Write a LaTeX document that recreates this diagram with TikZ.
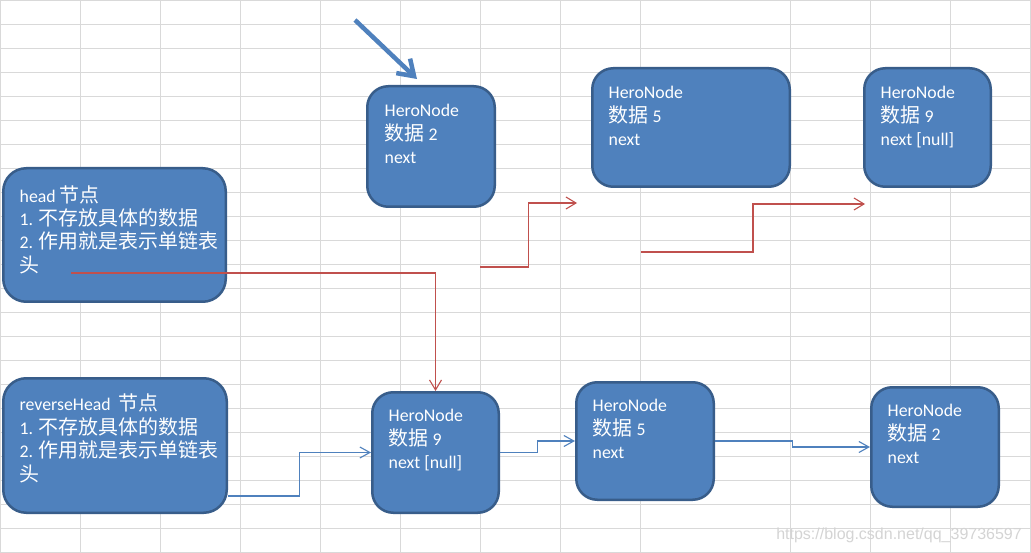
\documentclass[tikz,border=0pt]{standalone}
\usepackage{fontspec}
\setmainfont{Carlito}
\newfontfamily\cjk{Noto Sans CJK SC}[Scale=1.12]
\newfontfamily\wmfont{Liberation Sans}
\usetikzlibrary{arrows.meta,calc}
\definecolor{boxblue}{HTML}{4F81BD}
\definecolor{boxedge}{HTML}{385D8A}
\definecolor{gridgray}{HTML}{D9D9D9}
\definecolor{linkred}{HTML}{C0504D}
\definecolor{wmgray}{HTML}{D4D4D4}
\tikzset{
  hbox/.style={draw=boxedge, fill=boxblue, line width=2.5pt, rounded corners=21pt, inner sep=0pt},
  txt/.style={anchor=north west, inner sep=0pt, align=left, text=white, font=\fontsize{17.8}{23.4}\selectfont},
  redlink/.style={draw=linkred, line width=1.1pt, -{Straight Barb[length=10pt,width=12pt]}},
  bluelink/.style={draw=boxblue, line width=1.1pt, -{Straight Barb[length=10pt,width=11pt]}},
  bigarrow/.style={draw=boxblue, line width=4.5pt, -{Straight Barb[length=15pt,width=20pt]}},
  gridline/.style={draw=gridgray, line width=1pt}
}
\newcommand{\fs}{\rule{0pt}{20pt}}
\begin{document}
\begin{tikzpicture}[x=1pt,y=-1pt]
\useasboundingbox (0,0) rectangle (1031,553);
\fill[white] (0,0) rectangle (1031,553);
% grid
\foreach \x in {0.5,80.5,160.5,240.5,320.5,400.5,480.5,560.5,640.5,790.5,870.5,950.5,1030.5}
  \draw[gridline] (\x,0) -- (\x,553);
\foreach \y in {0.5,24.5,48.5,72.5,96.5,120.5,144.5,168.5,192.5,216.5,240.5,264.5,288.5,312.5,336.5,360.5,384.5,408.5,432.5,456.5,480.5,504.5,528.5,552.5}
  \draw[gridline] (0,\y) -- (1031,\y);

% boxes
\node[hbox, minimum width=127.5pt, minimum height=120.5pt] (h2top) at (431,146.5) {};
\node[hbox, rounded corners=23pt, minimum width=222.5pt, minimum height=133.5pt] (head) at (114.5,235) {};
\node[hbox, rounded corners=23pt, minimum width=223.5pt, minimum height=134.5pt] (rev) at (115,445.5) {};
\node[hbox, minimum width=126.5pt, minimum height=120.5pt] (n9b) at (435.5,452.5) {};
\node[hbox, minimum width=137.5pt, minimum height=117.5pt] (n5b) at (645,441) {};
\node[hbox, minimum width=127.5pt, minimum height=119.5pt] (n2b) at (935,447) {};
\node[hbox, minimum width=197.5pt, minimum height=118.5pt] (n5t) at (691,127.5) {};
\node[hbox, minimum width=126.5pt, minimum height=118.5pt] (n9t) at (927.5,127.5) {};

% texts
\node[txt] (t-h2top) at ($(h2top.north west)+(18.5,11.75)$) {\fs HeroNode\\{\cjk 数据} 2\\next};
\node[txt] (t-head) at ($(head.north west)+(17.5,15)$) {\fs head {\cjk 节点}\\1. {\cjk 不存放具体的数据}\\2. {\cjk 作用就是表示单链表}\\{\cjk 头}};
\node[txt] (t-rev) at ($(rev.north west)+(17.5,13.75)$) {\fs reverseHead\ \ {\cjk 节点}\\1. {\cjk 不存放具体的数据}\\2. {\cjk 作用就是表示单链表}\\{\cjk 头}};
\node[txt] (t-n9b) at ($(n9b.north west)+(17.5,10.75)$) {\fs HeroNode\\{\cjk 数据} 9\\next [null]};
\node[txt] (t-n5b) at ($(n5b.north west)+(17.5,10.75)$) {\fs HeroNode\\{\cjk 数据} 5\\next};
\node[txt] (t-n2b) at ($(n2b.north west)+(17.5,10.75)$) {\fs HeroNode\\{\cjk 数据} 2\\next};
\node[txt] (t-n5t) at ($(n5t.north west)+(17.5,11.75)$) {\fs HeroNode\\{\cjk 数据} 5\\next};
\node[txt] (t-n9t) at ($(n9t.north west)+(17.5,11.75)$) {\fs HeroNode\\{\cjk 数据} 9\\next [null]};

% big pointer arrow
\coordinate (ps) at (355,20);
\coordinate (pe) at ($(h2top.north)+(-14,-6)$);
\draw[bigarrow] (ps) -- (pe);

% red connectors
\coordinate (r1s) at (71,273);
\draw[redlink] (r1s) -| (n9b.north);
\coordinate (r2s) at (480,267);
\coordinate (r2e) at (577,203);
\draw[redlink] (r2s) -| ($(r2s)!0.5!(r2e)$) |- (r2e);
\coordinate (r3s) at (641,252);
\coordinate (r3e) at (865,204);
\draw[redlink] (r3s) -| ($(r3s)!0.5!(r3e)$) |- (r3e);

% blue connectors
\coordinate (b1s) at (228,496);
\draw[bluelink] (b1s) -| ($(b1s)!0.5!(n9b.west)$) |- (n9b.west);
\draw[bluelink] (n9b.east) -| ($(n9b.east)!0.5!(n5b.west)$) |- (n5b.west);
\draw[bluelink] (n5b.east) -| ($(n5b.east)!0.5!(n2b.west)$) |- (n2b.west);

% watermark
\node[anchor=base east, inner sep=0pt, text=wmgray, font=\wmfont\fontsize{16}{18}\selectfont] (wm) at (1022,539) {https://blog.csdn.net/qq\_39736597};
\end{tikzpicture}
\end{document}
